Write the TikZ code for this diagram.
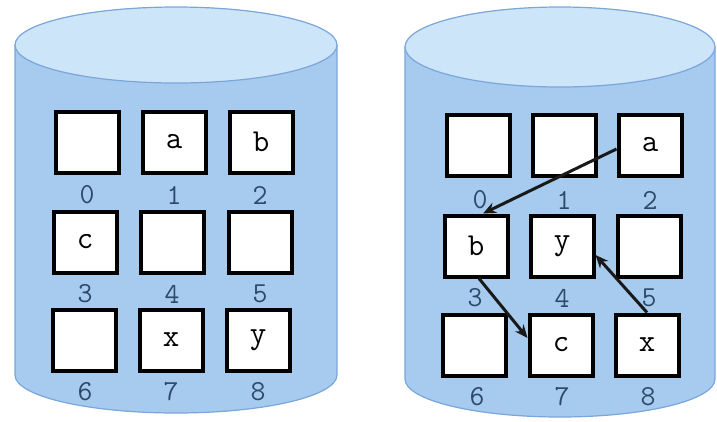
\documentclass[tikz,border=0pt]{standalone}
\usepackage{fontspec}
\usetikzlibrary{arrows.meta}
\definecolor{cylbody}{HTML}{A6CBEE}
\definecolor{cyltop}{HTML}{CDE5F8}
\definecolor{cylline}{HTML}{7AA6DC}
\definecolor{labcol}{HTML}{2E4A6B}
\tikzset{
  cell/.style={draw=black, line width=4pt, fill=white, minimum width=63pt, minimum height=61pt, inner sep=0pt, font=\fontsize{32}{34}\selectfont\ttfamily},
  idx/.style={text=labcol, inner sep=0pt, font=\fontsize{29}{31}\selectfont\ttfamily},
  ptr/.style={line width=3pt, draw=black!90, -{Stealth[length=13pt,width=11pt]}},
  cylb/.style={fill=cylbody, draw=cylline, line width=1.2pt},
  cylt/.style={fill=cyltop, draw=cylline, line width=1.2pt}
}
\begin{document}
\begin{tikzpicture}[x=1pt,y=1pt]
\useasboundingbox (0,0) rectangle (717,-421);
% left cylinder
\path[cylb] (15,-45) -- (15,-375) arc[start angle=180,end angle=360,x radius=161pt,y radius=38pt] -- (337,-45) -- cycle;
\path[cylt] (176,-45) ellipse[x radius=161pt,y radius=38pt];
% right cylinder
\path[cylb] (405,-47) -- (405,-379) arc[start angle=180,end angle=360,x radius=155pt,y radius=38pt] -- (715,-47) -- cycle;
\path[cylt] (560,-47) ellipse[x radius=155pt,y radius=40pt];
% left boxes
\node[cell] (l0) at (87,-142) {};
\node[cell] (l1) at (174,-142) {a};
\node[cell] (l2) at (261,-142) {b};
\node[cell] (l3) at (85,-242) {c};
\node[cell] (l4) at (172,-242) {};
\node[cell] (l5) at (260,-242) {};
\node[cell] (l6) at (84,-340) {};
\node[cell] (l7) at (171,-340) {x};
\node[cell] (l8) at (258,-340) {y};
% left labels
\node[idx] (n0) at (87,-195) {0};
\node[idx] (n1) at (174,-195) {1};
\node[idx] (n2) at (260,-195) {2};
\node[idx] (n3) at (85,-294) {3};
\node[idx] (n4) at (172,-294) {4};
\node[idx] (n5) at (260,-294) {5};
\node[idx] (n6) at (85,-392) {6};
\node[idx] (n7) at (171,-392) {7};
\node[idx] (n8) at (258,-392) {8};
% right boxes
\node[cell] (r0) at (478,-145) {};
\node[cell] (r1) at (564,-145) {};
\node[cell] (r2) at (650,-145) {a};
\node[cell] (r3) at (476,-246) {b};
\node[cell] (r4) at (562,-246) {y};
\node[cell] (r5) at (649,-246) {};
\node[cell] (r6) at (474,-345) {};
\node[cell] (r7) at (561,-345) {c};
\node[cell] (r8) at (647,-345) {x};
% right labels
\node[idx] (m0) at (480,-200) {0};
\node[idx] (m1) at (564,-200) {1};
\node[idx] (m2) at (650,-200) {2};
\node[idx] (m3) at (475,-298) {3};
\node[idx] (m4) at (562,-298) {4};
\node[idx] (m5) at (649,-298) {5};
\node[idx] (m6) at (477,-397) {6};
\node[idx] (m7) at (562,-397) {7};
\node[idx] (m8) at (648,-397) {8};
% pointers
\draw[ptr] ([yshift=-4pt]r2.west) -- ([xshift=7pt]r3.north);
\draw[ptr] ([xshift=3pt]r3.south) -- ([yshift=7pt]r7.west);
\draw[ptr] (r8.north) -- ([yshift=-9pt]r4.east);
\end{tikzpicture}
\end{document}
